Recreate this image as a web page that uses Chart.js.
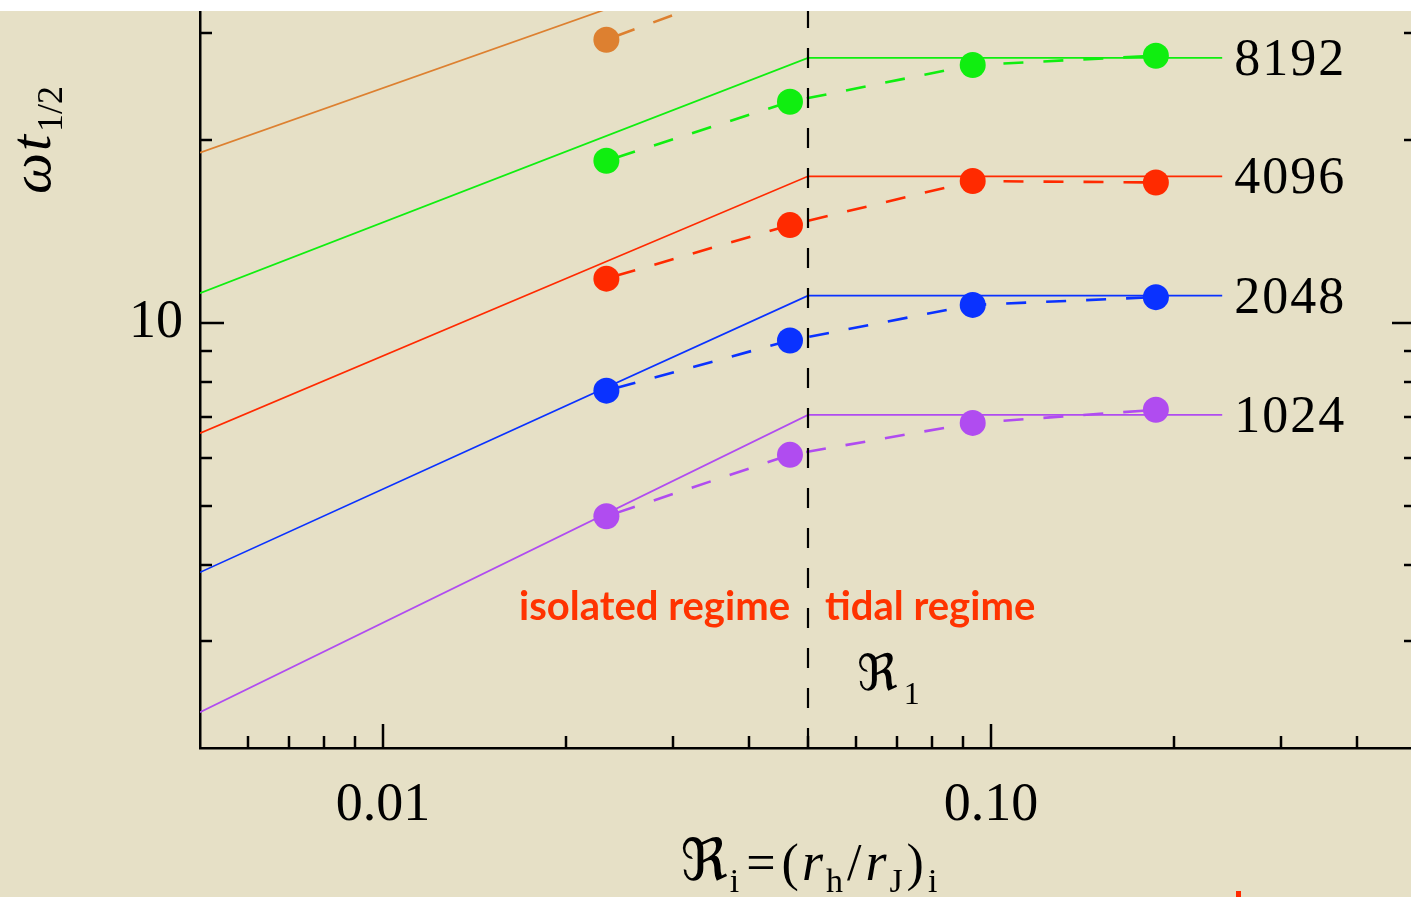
<!DOCTYPE html>
<html>
<head>
<meta charset="utf-8">
<script src="https://cdn.jsdelivr.net/npm/chart.js@4.4.1/dist/chart.umd.min.js"></script>
<style>
  html, body { margin: 0; padding: 0; width: 1411px; height: 897px; overflow: hidden; background: #ffffff; }
  #paper { position: absolute; left: 0; top: 11px; width: 1420px; height: 886px; background: #e6e0c6; }
  #mark { position: absolute; left: 1236px; top: 891px; width: 5px; height: 6px; background: #ff2a00; }
</style>
</head>
<body>
<div id="paper"><canvas id="chart" width="1420" height="886"></canvas></div>
<div id="mark"></div>
<script>
// Measured half-life times  omega * t_1/2  versus initial filling factor R_i = (r_h / r_J)_i
const xRatio = [0.0233, 0.0467, 0.0933, 0.1867];
const omegaT8192 = [18.49, 23.12, 26.57, 27.52];
const omegaT4096 = [11.83, 14.49, 17.12, 17.03];
const omegaT2048 = [7.74, 9.36, 10.71, 11.03];
const omegaT1024 = [4.81, 6.07, 6.85, 7.20];
const omegaTTop = [29.24, 37.8];

// Two-regime model: power law in the isolated regime, flat in the tidal regime
const xModel = [0.005, 0.05, 0.24];
const model8192 = [11.20, 27.29, 27.29];
const model4096 = [6.59, 17.43, 17.43];
const model2048 = [3.89, 11.09, 11.09];
const model1024 = [2.29, 7.06, 7.06];
const modelTop = [19.06, 43.0, 43.0];

const R1 = 0.05;
const seriesNames = ['8192', '4096', '2048', '1024'];
const seriesColors = ['#10ee10', '#ff2a00', '#0a32ff', '#b04cf0'];
const topColor = '#dd8030';

const xRange = [0.005, 0.5];
const yRange = [2, 32.6];
const xLabelValues = [0.01, 0.1];
const xLabelTexts = ['0.01', '0.10'];
const yLabelValues = [10];
const yLabelTexts = ['10'];
const xMajorTicks = [0.01, 0.1];
const xMinorTicks = [0.006, 0.007, 0.008, 0.009, 0.02, 0.03, 0.04, 0.05, 0.06, 0.07, 0.08, 0.09, 0.2, 0.3, 0.4];
const yMajorTicks = [10];
const yMinorTicks = [3, 4, 5, 6, 7, 8, 9, 20, 30];

const SERIF = '"Liberation Serif", "DejaVu Serif", "DejaVu Sans", serif';
const SANS = 'Lato, "Open Sans", sans-serif';

const pts = (xs, ys) => ys.map((v, i) => ({ x: xs[i], y: v }));
const sameLog = (a, b) => Math.abs(Math.log10(a) - Math.log10(b)) < 1e-6;

const modelSets = [model8192, model4096, model2048, model1024];
const dataSets = [omegaT8192, omegaT4096, omegaT2048, omegaT1024];

const datasets = [];
// model curves (thin solid)
modelSets.forEach((m, i) => datasets.push({
  data: pts(xModel, m), borderColor: seriesColors[i], borderWidth: 1.7,
  pointRadius: 0, fill: false, tension: 0, order: 3
}));
datasets.push({
  data: pts(xModel, modelTop), borderColor: topColor, borderWidth: 1.7,
  pointRadius: 0, fill: false, tension: 0, order: 3
});
// measured points joined by dashed lines
dataSets.forEach((d, i) => datasets.push({
  data: pts(xRatio, d), borderColor: seriesColors[i], borderWidth: 2.6,
  borderDash: [20, 20], borderDashOffset: 30,
  pointRadius: 13, pointHoverRadius: 13, pointBorderWidth: 0,
  pointBackgroundColor: seriesColors[i], fill: false, tension: 0, order: 2
}));
datasets.push({
  data: pts(xRatio, omegaTTop), borderColor: topColor, borderWidth: 2.6,
  borderDash: [20, 20], borderDashOffset: 30,
  pointRadius: 13, pointHoverRadius: 13, pointBorderWidth: 0,
  pointBackgroundColor: topColor, fill: false, tension: 0, order: 2
});
// boundary between the isolated and tidal regimes
datasets.push({
  data: [{ x: R1, y: yRange[0] }, { x: R1, y: yRange[1] }],
  borderColor: '#000000', borderWidth: 2.2, borderDash: [20, 20],
  pointRadius: 0, fill: false, order: 0
});

// draws a row of text runs: [text, font, baseline shift, extra space after]
function drawRuns(ctx, runs, x, y, align) {
  let total = 0;
  const widths = runs.map(r => {
    ctx.font = r[1];
    const w = ctx.measureText(r[0]).width + (r[3] || 0);
    total += w;
    return w;
  });
  let cx = align === 'center' ? x - total / 2 : (align === 'right' ? x - total : x);
  ctx.textAlign = 'left';
  runs.forEach((r, i) => {
    ctx.font = r[1];
    ctx.fillText(r[0], cx, y + (r[2] || 0));
    cx += widths[i];
  });
}

const decorations = {
  id: 'decorations',
  afterDraw(chart) {
    const { ctx, chartArea: a } = chart;
    const xs = chart.scales.x, ys = chart.scales.y;
    ctx.save();

    // inward tick marks on the bottom, left and right axes
    ctx.strokeStyle = '#000';
    ctx.lineWidth = 2.5;
    const seg = (x1, y1, x2, y2) => { ctx.beginPath(); ctx.moveTo(x1, y1); ctx.lineTo(x2, y2); ctx.stroke(); };
    const tickX = (v, len) => { const p = Math.round(xs.getPixelForValue(v)); seg(p, a.bottom, p, a.bottom - len); };
    const tickY = (v, len) => {
      const p = Math.round(ys.getPixelForValue(v));
      seg(a.left, p, a.left + len, p);
      seg(a.right, p, a.right - len, p);
    };
    xMinorTicks.forEach(v => tickX(v, 12));
    xMajorTicks.forEach(v => tickX(v, 24));
    yMinorTicks.forEach(v => tickY(v, 12));
    yMajorTicks.forEach(v => tickY(v, 24));
    seg(a.right, a.top, a.right, a.bottom);

    // series labels at the end of each model curve
    ctx.fillStyle = '#000';
    ctx.textBaseline = 'alphabetic';
    const xEnd = xs.getPixelForValue(xModel[xModel.length - 1]);
    modelSets.forEach((m, i) => {
      const py = ys.getPixelForValue(m[m.length - 1]);
      drawRuns(ctx, seriesNames[i].split('').map(c => [c, '52px ' + SERIF, 0, 2]), xEnd + 12, py + 17, 'left');
    });

    // regime annotations
    const xr = xs.getPixelForValue(R1);
    ctx.fillStyle = '#ff3300';
    ctx.font = 'bold 40px ' + SANS;
    ctx.textAlign = 'right';
    ctx.fillText('isolated regime', xr - 18, 609);
    ctx.textAlign = 'left';
    ctx.fillText('tidal regime', xr + 17, 609);

    // R_1 marker label
    ctx.fillStyle = '#000';
    drawRuns(ctx, [['\u211C', '50px ' + SERIF, 0, 6], ['1', '32px ' + SERIF, 14]], xr + 49, 679, 'left');

    // x-axis title
    const R = '58px ' + SERIF, M = '52px ' + SERIF, I = 'italic 54px ' + SERIF, S = '34px ' + SERIF;
    drawRuns(ctx, [
      ['\u211C', R, 0, 2], ['i', S, 12, 7], ['=', M, 0, 6], ['(', M, 0, 3], ['r', I, 0, 3], ['h', S, 12, 4],
      ['/', M, 0, 4], ['r', I, 0, 3], ['J', S, 12, 4], [')', M, 0, 4], ['i', S, 12]
    ], 809, 869, 'center');

    // y-axis title (rotated)
    ctx.translate(50, 129);
    ctx.rotate(-Math.PI / 2);
    drawRuns(ctx, [['\u03C9', 'italic 58px ' + SERIF, 0, 2], ['t', 'italic 58px ' + SERIF, 0, 3], ['1/2', '36px ' + SERIF, 12]], 0, 0, 'center');
    ctx.restore();
  }
};

new Chart(document.getElementById('chart'), {
  type: 'line',
  data: { datasets },
  options: {
    responsive: false,
    animation: false,
    devicePixelRatio: 1,
    layout: { autoPadding: false, padding: { left: 0, right: 4, top: 0, bottom: 0 } },
    plugins: { legend: { display: false }, tooltip: { enabled: false } },
    events: [],
    scales: {
      x: {
        type: 'logarithmic', position: 'bottom', min: xRange[0], max: xRange[1],
        grid: { display: true, drawOnChartArea: false, drawTicks: false, color: 'rgba(0,0,0,0)' },
        border: { display: true, color: '#000', width: 2.5 },
        ticks: {
          autoSkip: false, maxRotation: 0, padding: 25, color: '#000',
          font: { family: SERIF, size: 54 },
          callback: v => { const k = xLabelValues.findIndex(t => sameLog(t, v)); return k >= 0 ? xLabelTexts[k] : null; }
        },
        afterFit: s => { s.height = 149; s.paddingLeft = 0; s.paddingRight = 0; }
      },
      y: {
        type: 'logarithmic', position: 'left', min: yRange[0], max: yRange[1],
        grid: { display: true, drawOnChartArea: false, drawTicks: false, color: 'rgba(0,0,0,0)' },
        border: { display: true, color: '#000', width: 2.5 },
        ticks: {
          autoSkip: false, padding: 17, color: '#000',
          font: { family: SERIF, size: 54 },
          callback: v => { const k = yLabelValues.findIndex(t => sameLog(t, v)); return k >= 0 ? yLabelTexts[k] : null; }
        },
        afterFit: s => { s.width = 200; s.paddingTop = 0; s.paddingBottom = 0; }
      }
    }
  },
  plugins: [decorations]
});
</script>
</body>
</html>
